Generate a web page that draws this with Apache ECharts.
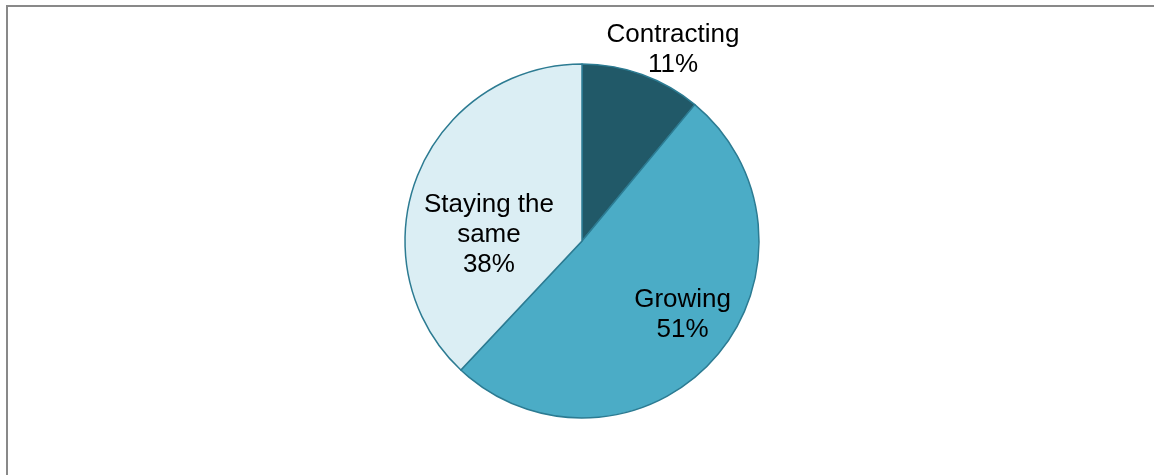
<!DOCTYPE html>
<html>
<head>
<meta charset="utf-8">
<style>
  html, body { margin: 0; padding: 0; background: #ffffff; }
  #chart { width: 1154px; height: 475px; }
</style>
<script src="https://cdn.jsdelivr.net/npm/echarts@6/dist/echarts.min.js"></script>
</head>
<body>
<div id="chart"></div>
<script>
// Share of businesses by outlook
const categories = ['Contracting', 'Growing', 'Staying the\nsame'];
const shares = [11, 51, 38];
const sliceColors = ['#215968', '#4BACC6', '#DBEEF4'];
// label nudges from the default in-slice position
const labelOffsets = [[60, -105], [32, 13], [-8, 28]];

const chart = echarts.init(document.getElementById('chart'), null, { renderer: 'canvas' });

const data = categories.map((name, i) => ({
  name: name,
  value: shares[i],
  itemStyle: { color: sliceColors[i] },
  label: { offset: labelOffsets[i] }
}));

chart.setOption({
  animation: false,
  backgroundColor: '#ffffff',
  graphic: [{
    type: 'rect',
    shape: { x: 7, y: 6, width: 1400, height: 700 },
    style: { fill: 'none', stroke: '#898989', lineWidth: 2 },
    z: 0
  }],
  series: [{
    type: 'pie',
    center: [582, 241],
    radius: [0, 177],
    startAngle: 90,
    clockwise: true,
    avoidLabelOverlap: false,
    itemStyle: { borderColor: '#2C7B92', borderWidth: 1.5 },
    label: {
      show: true,
      position: 'inside',
      formatter: p => p.name + '\n' + p.value + '%',
      color: '#000000',
      fontFamily: 'Liberation Sans, Arial, sans-serif',
      fontSize: 26,
      lineHeight: 30,
      align: 'center'
    },
    labelLine: { show: false },
    emphasis: { disabled: true },
    data: data
  }]
});
</script>
</body>
</html>
